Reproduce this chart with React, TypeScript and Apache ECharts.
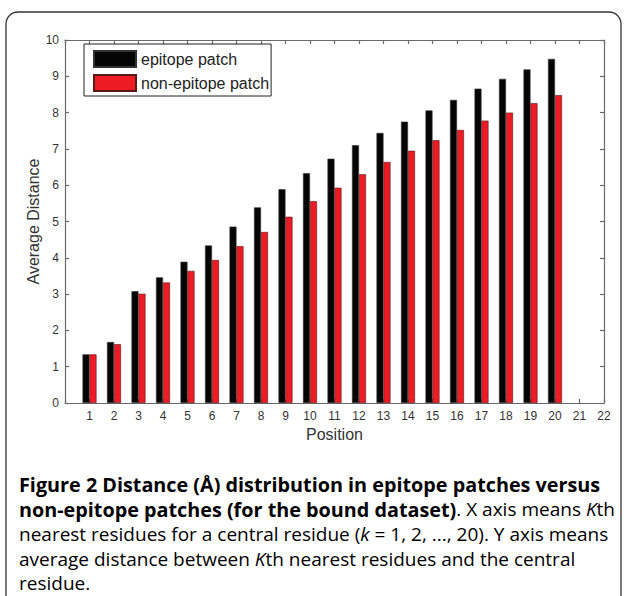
import React, { useEffect, useRef } from "react";
import * as echarts from "echarts";

const positions = [1, 2, 3, 4, 5, 6, 7, 8, 9, 10, 11, 12, 13, 14, 15, 16, 17, 18, 19, 20];
const epitope = [1.34, 1.68, 3.08, 3.46, 3.89, 4.34, 4.86, 5.39, 5.89, 6.33, 6.73, 7.1, 7.44, 7.75, 8.06, 8.35, 8.66, 8.93, 9.19, 9.48];
const nonEpitope = [1.34, 1.62, 3.01, 3.32, 3.64, 3.94, 4.32, 4.71, 5.13, 5.56, 5.93, 6.3, 6.64, 6.95, 7.24, 7.52, 7.78, 8.0, 8.26, 8.48];
const seriesNames = ["epitope patch", "non-epitope patch"];
const xMin = 0;
const xMax = 22;
const yMin = 0;
const yMax = 10;

const captionLines = [
  "{b|Figure 2 Distance (Å) distribution in epitope patches versus}",
  "{b|non-epitope patches (for the bound dataset)}{n|. X axis means }{i|K}{n|th}",
  "{n|nearest residues for a central residue (}{i|k}{n| = 1, 2, ..., 20). Y axis means}",
  "{n|average distance between }{i|K}{n|th nearest residues and the central}",
  "{n|residue.}",
];

const FONT = "'Liberation Sans', Arial, sans-serif";
const CAP_FONT = "'Open Sans', 'Noto Sans', sans-serif";

export default function App() {
  const ref = useRef<HTMLDivElement>(null);
  useEffect(() => {
    if (!ref.current) return;
    const chart = echarts.init(ref.current, null, { renderer: "svg" });
    const axisLineStyle = { color: "#6a6a6a", width: 1.2 };
    const rich = {
      b: { fontFamily: CAP_FONT, fontSize: 19.8, fontWeight: "bold", color: "#231f20", lineHeight: 22 },
      n: { fontFamily: CAP_FONT, fontSize: 19, fontWeight: "normal", color: "#231f20", lineHeight: 22 },
      i: { fontFamily: CAP_FONT, fontSize: 19, fontStyle: "italic", color: "#231f20", lineHeight: 22 },
    };
    const lineY = [484, 509, 534, 559, 583];
    const tick = { show: true, inside: true, length: 4, lineStyle: axisLineStyle };
    const line = { show: true, onZero: false, lineStyle: axisLineStyle };
    chart.setOption({
      animation: false,
      backgroundColor: "#ffffff",
      grid: { left: 65, right: 20, top: 40, bottom: 193, containLabel: false },
      legend: {
        orient: "vertical",
        left: 84,
        top: 44,
        padding: [6, 2, 4, 9],
        itemWidth: 42,
        itemHeight: 16,
        itemGap: 6,
        icon: "rect",
        borderColor: "#222",
        borderWidth: 1,
        selectedMode: false,
        backgroundColor: "#fff",
        textStyle: { fontFamily: FONT, fontSize: 16, color: "#222" },
        data: seriesNames,
      },
      xAxis: [
        {
          type: "value",
          min: xMin,
          max: xMax,
          interval: 1,
          position: "bottom",
          name: "Position",
          nameLocation: "middle",
          nameGap: 23,
          nameMoveOverlap: false,
          nameTextStyle: { fontFamily: FONT, fontSize: 16, color: "#333" },
          axisLine: line,
          axisTick: tick,
          axisLabel: {
            fontFamily: FONT,
            fontSize: 12,
            color: "#333",
            margin: 7,
            formatter: (v: number) => (v === 0 ? "" : String(v)),
          },
          splitLine: { show: false },
        },
        {
          type: "value",
          min: xMin,
          max: xMax,
          interval: 1,
          position: "top",
          axisLine: line,
          axisTick: tick,
          axisLabel: { show: false },
          splitLine: { show: false },
        },
      ],
      yAxis: [
        {
          type: "value",
          min: yMin,
          max: yMax,
          interval: 1,
          position: "left",
          name: "Average Distance",
          nameLocation: "middle",
          nameGap: 24,
          nameMoveOverlap: false,
          nameTextStyle: { fontFamily: FONT, fontSize: 16, color: "#333" },
          axisLine: line,
          axisTick: tick,
          axisLabel: { fontFamily: FONT, fontSize: 12, color: "#333", margin: 6 },
          splitLine: { show: false },
        },
        {
          type: "value",
          min: yMin,
          max: yMax,
          interval: 1,
          position: "right",
          axisLine: line,
          axisTick: tick,
          axisLabel: { show: false },
          splitLine: { show: false },
        },
      ],
      series: [
        {
          name: seriesNames[0],
          type: "bar",
          xAxisIndex: 0,
          yAxisIndex: 0,
          barWidth: 7,
          barGap: "0%",
          itemStyle: { color: "#050505", borderColor: "#333", borderWidth: 0.6 },
          data: positions.map((p, i) => [p, epitope[i]]),
        },
        {
          name: seriesNames[1],
          type: "bar",
          xAxisIndex: 0,
          yAxisIndex: 0,
          barWidth: 7,
          barGap: "0%",
          itemStyle: { color: "#ed1c24", borderColor: "#5a1a1a", borderWidth: 0.6 },
          data: positions.map((p, i) => [p, nonEpitope[i]]),
        },
      ],
      graphic: [
        {
          type: "rect",
          shape: { x: 6, y: 12, width: 615, height: 640, r: 12 },
          style: { fill: "none", stroke: "#333", lineWidth: 1.3 },
          silent: true,
        },
        ...captionLines.map((t, i) => ({
          type: "text",
          x: 19,
          y: lineY[i],
          style: {
            text: t,
            rich,
            verticalAlign: "middle",
            align: "left",
          },
        })),
      ],
    });
    return () => chart.dispose();
  }, []);
  return (
    <div
      ref={ref}
      style={{ position: "absolute", left: 0, top: 0, width: 624, height: 596, background: "#fff" }}
    />
  );
}
